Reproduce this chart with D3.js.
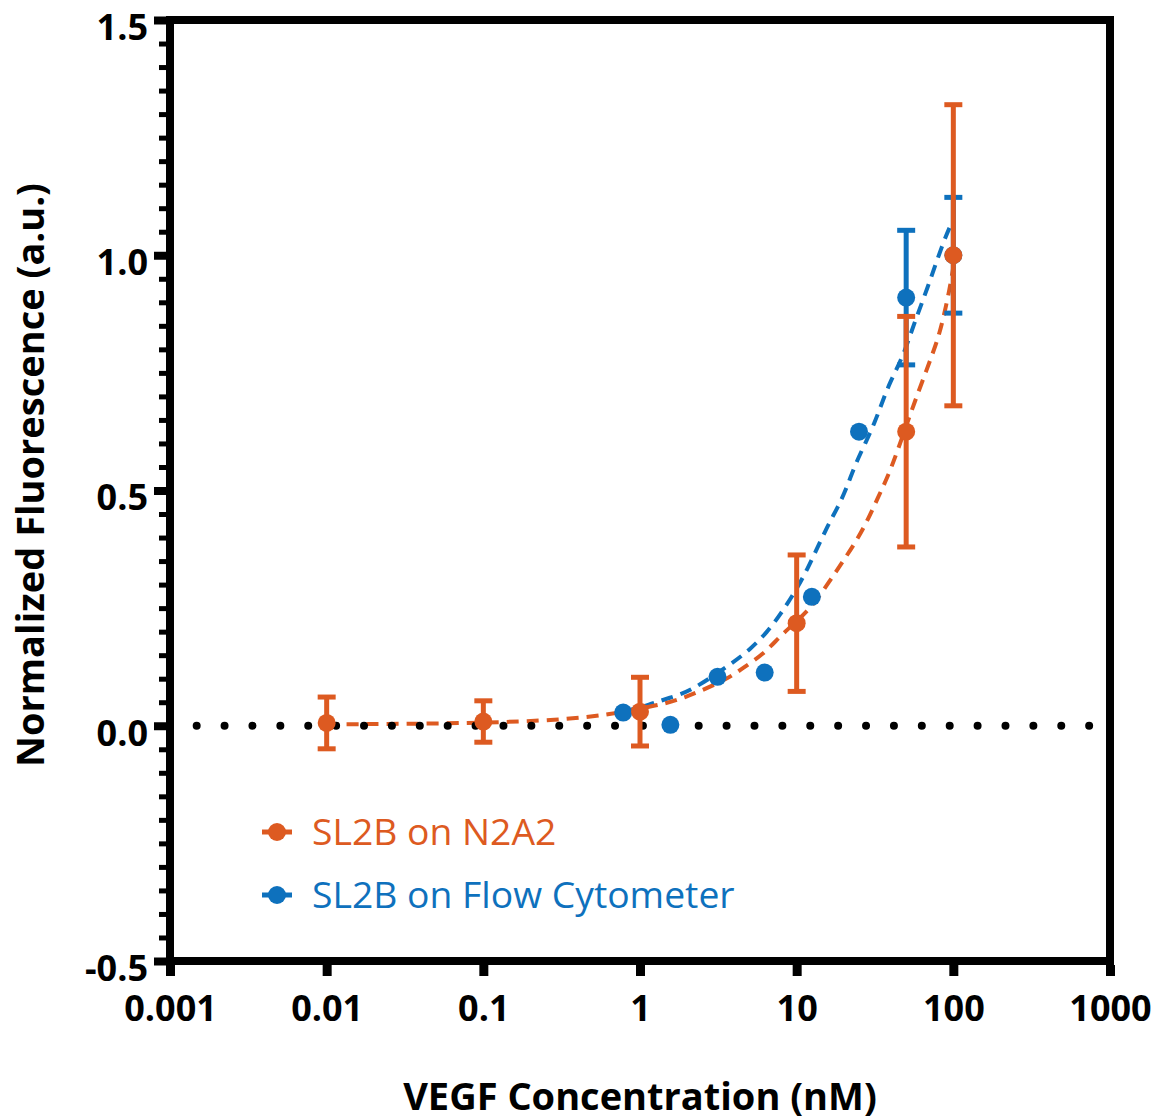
<!DOCTYPE html>
<html>
<head>
<meta charset="utf-8">
<script src="https://cdn.jsdelivr.net/npm/d3@7"></script>
<style>
  html, body { margin: 0; padding: 0; background: #fff; }
  svg { display: block; }
</style>
</head>
<body>
<svg id="chart" width="1158" height="1120"></svg>
<script>
// ---- data ----
const xTicks = [0.001, 0.01, 0.1, 1, 10, 100, 1000];
const xTickLabels = ['0.001', '0.01', '0.1', '1', '10', '100', '1000'];
const yTicks = [-0.5, 0, 0.5, 1.0, 1.5];
const yTickLabels = ['-0.5', '0.0', '0.5', '1.0', '1.5'];

// SL2B on N2A2 (mean ± error)
const n2a2Conc = [0.01, 0.1, 1, 10, 50, 100];
const n2a2Mean = [0.006, 0.009, 0.03, 0.218, 0.625, 1.0];
const n2a2Err  = [0.055, 0.044, 0.073, 0.145, 0.245, 0.32];

// SL2B on Flow Cytometer
const flowConc = [0.78125, 1.5625, 3.125, 6.25, 12.5, 25, 50, 100];
const flowMean = [0.028, 0.002, 0.104, 0.113, 0.274, 0.625, 0.91, 1.0];
const flowErr  = [null, null, null, null, null, null, 0.143, 0.123];

// fitted curves (dashed)
const n2a2FitX = [0.01, 0.03, 0.1, 0.3, 0.64, 1.34, 1.8, 3.59, 4.54, 6.1, 7.82, 10, 12.5, 16.3, 19.7, 24.3, 28.5, 33, 37.7, 43.6, 52.8, 63, 78.5, 86, 95, 100];
const n2a2FitY = [0.003, 0.004, 0.006, 0.012, 0.023, 0.045, 0.055, 0.098, 0.123, 0.151, 0.19, 0.222, 0.253, 0.308, 0.349, 0.395, 0.438, 0.485, 0.525, 0.58, 0.66, 0.73, 0.814, 0.863, 0.93, 0.975];
const flowFitX = [0.78, 1.16, 1.55, 2.08, 3.92, 5.03, 6.46, 8.0, 9.47, 11.5, 15.6, 18.4, 21, 23.6, 27.5, 31.6, 34.5, 39.4, 47.7, 55.2, 67.9, 86, 95];
const flowFitY = [0.03, 0.045, 0.06, 0.072, 0.134, 0.162, 0.198, 0.24, 0.278, 0.326, 0.423, 0.465, 0.508, 0.555, 0.601, 0.646, 0.68, 0.731, 0.784, 0.848, 0.927, 1.027, 1.06];

// dotted baseline at y = 0
const baselineRange = [0.00148, 760];

const ORANGE = '#DD5A21';
const BLUE = '#0E71BD';
const FONT = '"Open Sans", "Noto Sans", sans-serif';

// ---- layout ----
const svg = d3.select('#chart');
const x = d3.scaleLog().domain([0.001, 1000]).range([170, 1110]);
const y = d3.scaleLinear().domain([-0.5, 1.5]).range([961, 20]);

// fitted curves
const line = d3.line().x(d => x(d[0])).y(d => y(d[1])).curve(d3.curveBasis);

function fitPath(xs, ys, color) {
  svg.append('path')
    .datum(xs.map((v, i) => [v, ys[i]]))
    .attr('d', line)
    .attr('fill', 'none')
    .attr('stroke', color)
    .attr('stroke-width', 4)
    .attr('stroke-dasharray', '12 8');
}
fitPath(flowFitX, flowFitY, BLUE);
fitPath(n2a2FitX, n2a2FitY, ORANGE);

// dotted zero line
svg.append('line')
  .attr('x1', x(baselineRange[0])).attr('x2', x(baselineRange[1]))
  .attr('y1', y(0)).attr('y2', y(0))
  .attr('stroke', '#000')
  .attr('stroke-width', 8)
  .attr('stroke-linecap', 'round')
  .attr('stroke-dasharray', '0 27.89');

// error bars + points
function series(xs, ms, es, color) {
  const g = svg.append('g');
  xs.forEach((c, i) => {
    const e = es[i];
    if (e == null) return;
    const cx = x(c);
    const y1 = y(ms[i] + e), y2 = y(ms[i] - e);
    g.append('line').attr('x1', cx).attr('x2', cx).attr('y1', y1).attr('y2', y2)
      .attr('stroke', color).attr('stroke-width', 5);
    [y1, y2].forEach(yy => {
      g.append('line').attr('x1', cx - 9).attr('x2', cx + 9).attr('y1', yy).attr('y2', yy)
        .attr('stroke', color).attr('stroke-width', 5);
    });
  });
  g.selectAll('circle')
    .data(xs.map((c, i) => [c, ms[i]]))
    .join('circle')
    .attr('cx', d => x(d[0]))
    .attr('cy', d => y(d[1]))
    .attr('r', 9)
    .attr('fill', color);
}
series(flowConc, flowMean, flowErr, BLUE);
series(n2a2Conc, n2a2Mean, n2a2Err, ORANGE);

// frame
svg.append('rect')
  .attr('x', 170).attr('y', 20).attr('width', 940).attr('height', 941)
  .attr('fill', 'none').attr('stroke', '#000').attr('stroke-width', 8);

// y axis: minor + major
const yMinor = svg.append('g').attr('transform', 'translate(166,0)')
  .call(d3.axisLeft(y).tickValues(y.ticks(40)).tickSize(7).tickFormat(''));
yMinor.select('.domain').remove();
yMinor.selectAll('line').attr('stroke', '#000').attr('stroke-width', 5);

const yAxis = svg.append('g').attr('transform', 'translate(166,0)')
  .call(d3.axisLeft(y).tickValues(yTicks).tickSize(12).tickPadding(6)
    .tickFormat(d => yTickLabels[yTicks.indexOf(d)]));
yAxis.select('.domain').remove();
yAxis.selectAll('line').attr('stroke', '#000').attr('stroke-width', 8);
yAxis.selectAll('text')
  .attr('dy', '0.54em')
  .attr('fill', '#000')
  .style('font-family', FONT).style('font-weight', 700).style('font-size', '36px');

// x axis
const xAxis = svg.append('g').attr('transform', 'translate(0,965)')
  .call(d3.axisBottom(x).tickValues(xTicks).tickSize(11)
    .tickFormat(d => xTickLabels[xTicks.indexOf(d)]));
xAxis.select('.domain').remove();
xAxis.selectAll('line').attr('stroke', '#000').attr('stroke-width', 9);
xAxis.selectAll('text')
  .attr('y', 56).attr('dy', 0)
  .attr('fill', '#000')
  .style('font-family', FONT).style('font-weight', 700).style('font-size', '36px');

// axis titles
svg.append('text')
  .attr('transform', 'translate(44,475) rotate(-90)')
  .attr('text-anchor', 'middle')
  .style('font-family', FONT).style('font-weight', 700).style('font-size', '38px')
  .text('Normalized Fluorescence (a.u.)');

svg.append('text')
  .attr('x', 640).attr('y', 1110)
  .attr('text-anchor', 'middle')
  .style('font-family', FONT).style('font-weight', 700).style('font-size', '38px')
  .text('VEGF Concentration (nM)');

// legend
const legendItems = [
  { label: 'SL2B on N2A2', color: ORANGE },
  { label: 'SL2B on Flow Cytometer', color: BLUE },
];
const legend = svg.append('g').attr('transform', 'translate(262,832)');
legendItems.forEach((d, i) => {
  const g = legend.append('g').attr('transform', `translate(0,${i * 63})`);
  g.append('line').attr('x1', 0).attr('x2', 30).attr('y1', 0).attr('y2', 0)
    .attr('stroke', d.color).attr('stroke-width', 5);
  g.append('circle').attr('cx', 15).attr('cy', 0).attr('r', 9).attr('fill', d.color);
  g.append('text').attr('x', 50).attr('y', 13)
    .attr('fill', d.color)
    .style('font-family', FONT).style('font-size', '37.3px')
    .text(d.label);
});
</script>
</body>
</html>
